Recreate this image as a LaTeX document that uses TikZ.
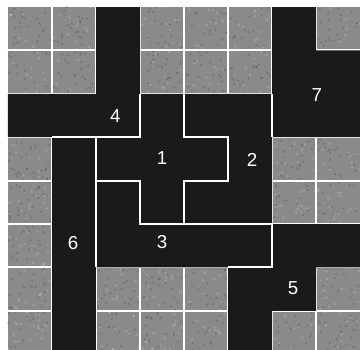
\documentclass[tikz,border=0pt]{standalone}
\usepackage{fontspec}
\setmainfont{Liberation Sans}
\definecolor{tilegray}{RGB}{138,138,138}
\definecolor{grain}{RGB}{60,60,60}
\definecolor{piecedark}{RGB}{26,26,26}
\tikzset{
  gridline/.style={white, line width=1.6pt},
  piece/.style={fill=piecedark, draw=none},
  seam/.style={white, line width=1.6pt, line join=miter},
  plabel/.style={text=white, font=\fontsize{16}{16}\selectfont, inner sep=0pt}
}

\begin{document}
\begin{tikzpicture}[x=1.32cm, y=-1.302cm]
        \useasboundingbox (-0.1818,-0.1613) rectangle (8,7.903);
        \fill[white] (-0.1818,-0.1613) rectangle (8,7.903);
        \begin{scope}
          \clip (-0.1818,-0.1613) rectangle (8,7.903);
          \fill[tilegray] (0,0) rectangle (8,8);
          \pgfmathsetseed{11}
          \foreach \k in {1,...,1400}
            \fill[grain, opacity=0.3] (8*rnd,8*rnd) circle (0.025);
          \foreach \k in {1,...,900}
            \fill[white, opacity=0.18] (8*rnd,8*rnd) circle (0.03);
          \foreach \i in {1,...,7} {
            \draw[gridline] (\i,0) -- (\i,8);
            \draw[gridline] (0,\i) -- (8,\i);
          }
          \fill[piece] (2,0) -- (3,0) -- (3,3) -- (0,3) -- (0,2) -- (2,2) -- cycle;
          \fill[piece] (6,0) -- (7,0) -- (7,1) -- (8,1) -- (8,3) -- (6,3) -- cycle;
          \fill[piece] (3,2) -- (4,2) -- (4,3) -- (5,3) -- (5,4) -- (4,4) -- (4,5)
            -- (3,5) -- (3,4) -- (2,4) -- (2,3) -- (3,3) -- cycle;
          \fill[piece] (4,2) -- (6,2) -- (6,5) -- (4,5) -- (4,4) -- (5,4) -- (5,3)
            -- (4,3) -- cycle;
          \fill[piece] (2,4) -- (3,4) -- (3,5) -- (6,5) -- (6,6) -- (2,6) -- cycle;
          \fill[piece] (1,3) -- (2,3) -- (2,8) -- (1,8) -- cycle;
          \fill[piece] (6,5) -- (8,5) -- (8,6) -- (7,6) -- (7,7) -- (6,7) -- (6,8)
            -- (5,8) -- (5,6) -- (6,6) -- cycle;
          \draw[seam] (3,2) -- (3,3) -- (1,3);
          \draw[seam] (2,3) -- (2,6);
          \draw[seam] (2,4) -- (3,4) -- (3,5) -- (6,5) -- (6,6) -- (5,6);
          \draw[seam] (4,2) -- (4,3) -- (5,3) -- (5,4) -- (4,4) -- (4,5);
          \draw[seam] (6,2) -- (6,3);
        \end{scope}
        \node[plabel] (n1) at (3.5,3.48) {1};
        \node[plabel] (n2) at (5.55,3.52) {2};
        \node[plabel] (n3) at (3.5,5.42) {3};
        \node[plabel] (n4) at (2.44,2.52) {4};
        \node[plabel] (n5) at (6.48,6.47) {5};
        \node[plabel] (n6) at (1.48,5.44) {6};
        \node[plabel] (n7) at (7.02,2.03) {7};
      \end{tikzpicture}
\end{document}
